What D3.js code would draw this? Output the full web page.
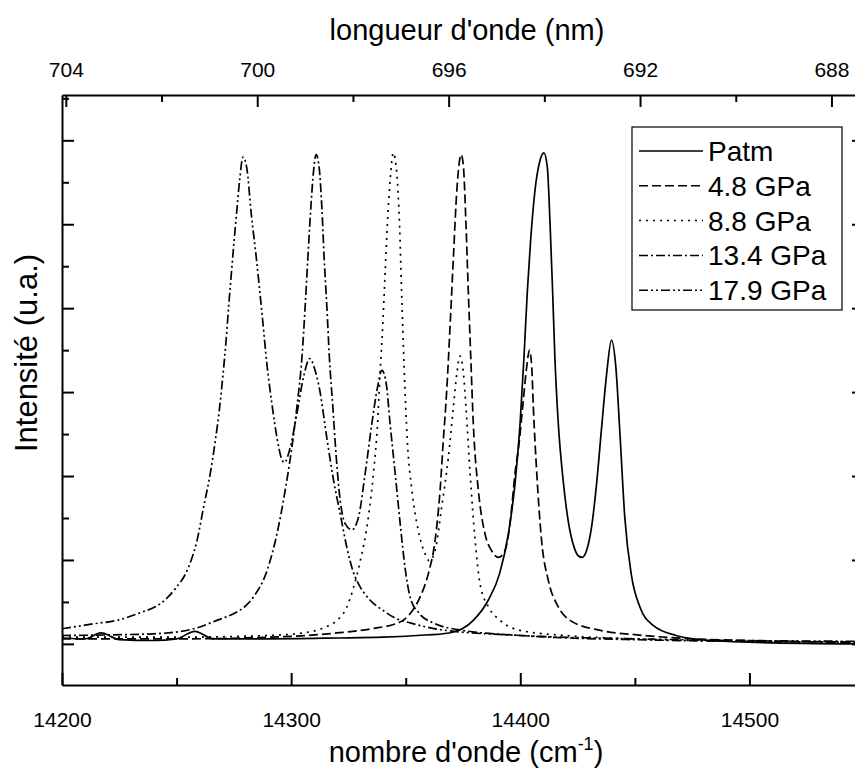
<!DOCTYPE html>
<html>
<head>
<meta charset="utf-8">
<style>
    body { margin: 0; background: #fff; }
    svg { display: block; font-family: 'Liberation Sans', Arial, sans-serif; }
    .axis .domain { stroke: #000; stroke-width: 2; }
    .axis .tick line { stroke: #000; stroke-width: 2; }
    .axis .tick text { font-size: 21px; fill: #000; }
    .title { font-size: 29px; fill: #000; }
    .legend text { font-size: 28px; fill: #000; }
    .spec { fill: none; stroke: #000; stroke-width: 1.7; }
</style>
</head>
<body>
<svg width="855" height="775"></svg>

<script src="https://cdnjs.cloudflare.com/ajax/libs/d3/7.8.5/d3.min.js"></script>
<script>
    // axis ranges and ticks
    let xDomain = [14200, 14550]
    let xTicks = [14200, 14300, 14400, 14500]
    let xMinor = [14250, 14350, 14450, 14550]
    let topDomain = [704.08, 687.32]
    let topTicks = [704, 700, 696, 692, 688]
    let topMinor = [702, 698, 694, 690]
    let yDomain = [-0.49, 6.54]
    let yTicks = [0, 1, 2, 3, 4, 5, 6]
    let yMinor = [0.5, 1.5, 2.5, 3.5, 4.5, 5.5, 6.5]

    let labels = ["Patm", "4.8 GPa", "8.8 GPa", "13.4 GPa", "17.9 GPa"]
    let dashes = ["none", "9,4", "2,5", "9,3,2,3", "9,3,2,3,2,3"]

    // spectra: [wavenumber, intensity]
    let patm = [[14200, 0.07], [14210, 0.06], [14217, 0.13], [14225, 0.05], [14240, 0.04], [14250, 0.06],
        [14258, 0.15], [14266, 0.06], [14290, 0.06], [14320, 0.07], [14340, 0.08], [14355, 0.10],
        [14369, 0.13], [14379.5, 0.28], [14386, 0.52], [14391, 0.84], [14394.8, 1.31], [14397.7, 1.91],
        [14399.9, 2.62], [14401.6, 3.41], [14403.1, 4.21], [14404.5, 4.80], [14406.4, 5.40], [14408.6, 5.76],
        [14410.3, 5.85], [14411.8, 5.68], [14413, 5.0], [14414.1, 4.21], [14415.1, 3.41], [14416.6, 2.62],
        [14418.7, 1.95], [14421, 1.45], [14423.5, 1.15], [14425.3, 1.05], [14427, 1.03], [14428.9, 1.11],
        [14431.1, 1.39], [14433.3, 1.91], [14435.5, 2.58], [14437.7, 3.22], [14439.8, 3.62], [14441.7, 3.30],
        [14443.5, 2.50], [14445.6, 1.51], [14448.6, 0.80], [14452.2, 0.44], [14458, 0.22], [14468, 0.10],
        [14483, 0.04], [14500, 0.02], [14550, 0.0]]

    let gpa48 = [[14200, 0.06], [14250, 0.06], [14300, 0.09], [14320, 0.13], [14335, 0.18], [14347.5, 0.26],
        [14351.9, 0.36], [14356.3, 0.56], [14359.9, 0.84], [14362.8, 1.23], [14365, 1.83], [14366.4, 2.42],
        [14367.9, 3.02], [14369.4, 3.81], [14370.8, 4.60], [14372.3, 5.40], [14374.2, 5.83], [14375.2, 5.68],
        [14376.3, 5.0], [14377.3, 4.21], [14378.4, 3.41], [14379.5, 2.62], [14381.7, 1.83], [14384.6, 1.31],
        [14387.5, 1.11], [14390.4, 1.03], [14393.3, 1.11], [14395.5, 1.43], [14397.7, 2.03], [14399.6, 2.42],
        [14401.3, 2.90], [14402.8, 3.30], [14404, 3.50], [14405, 3.30], [14405.7, 2.82], [14407.2, 2.03],
        [14409.3, 1.23], [14412.2, 0.76], [14416.6, 0.44], [14421.7, 0.28], [14435, 0.16], [14450, 0.11],
        [14475, 0.06], [14500, 0.04], [14550, 0.02]]

    let gpa88 = [[14200, 0.08], [14250, 0.08], [14290, 0.10], [14305, 0.13], [14315, 0.20], [14320, 0.28],
        [14324, 0.42], [14327, 0.65], [14330, 0.97], [14333.7, 1.51], [14335.9, 2.03], [14337.7, 2.62],
        [14338.8, 3.22], [14340, 3.81], [14341, 4.41], [14342, 5.0], [14343.2, 5.52], [14344.6, 5.85],
        [14346.1, 5.60], [14347.3, 5.0], [14348.2, 4.2], [14349.3, 3.3], [14350.7, 2.42], [14352.7, 1.83],
        [14355.5, 1.35], [14358.5, 1.07], [14360.3, 0.99], [14362.8, 1.11], [14365.7, 1.63], [14368.6, 2.22],
        [14370.8, 2.82], [14372.3, 3.22], [14373.7, 3.43], [14375.2, 3.22], [14376.3, 2.82], [14378.1, 2.03],
        [14380.3, 1.23], [14382.4, 0.72], [14386.1, 0.44], [14391.2, 0.28], [14400, 0.16], [14425, 0.09],
        [14450, 0.06], [14500, 0.03], [14550, 0.02]]

    let gpa134 = [[14200, 0.10], [14240, 0.12], [14257.5, 0.18], [14267.6, 0.28], [14274.9, 0.36], [14280, 0.45],
        [14283.6, 0.56], [14289.5, 0.875], [14293.8, 1.31], [14297.4, 1.83], [14300.3, 2.34], [14302.5, 2.82],
        [14304.7, 3.41], [14306.1, 4.01], [14307.3, 4.60], [14308.6, 5.20], [14309.8, 5.64], [14310.9, 5.83],
        [14312.2, 5.68], [14313.4, 5.20], [14314.4, 4.60], [14315.6, 4.01], [14316.7, 3.41], [14318.2, 2.82],
        [14319.7, 2.22], [14321.4, 1.71], [14323.6, 1.43], [14326.5, 1.36], [14329.4, 1.51], [14332.3, 2.03],
        [14335.2, 2.62], [14337.7, 3.06], [14339.6, 3.26], [14341.5, 3.10], [14343.2, 2.62], [14345.4, 2.03],
        [14347.6, 1.43], [14349.7, 0.91], [14352, 0.55], [14356, 0.36], [14362, 0.25], [14375, 0.16],
        [14400, 0.10], [14450, 0.05], [14550, 0.02]]

    let gpa179 = [[14200, 0.18], [14214, 0.24], [14224, 0.28], [14234, 0.37], [14243, 0.48], [14249.5, 0.66],
        [14254.6, 0.875], [14258.9, 1.23], [14261.8, 1.63], [14264.7, 2.03], [14266.9, 2.42], [14268.8, 2.82],
        [14270.3, 3.22], [14271.6, 3.61], [14272.7, 4.01], [14273.9, 4.41], [14275.1, 4.80], [14276.4, 5.20],
        [14277.5, 5.52], [14279, 5.80], [14280.7, 5.66], [14282.5, 5.15], [14285, 4.55], [14287.3, 3.93],
        [14289.4, 3.34], [14291.6, 2.86], [14293.8, 2.46], [14295.9, 2.20], [14297, 2.16], [14299.6, 2.34],
        [14302.5, 2.74], [14305.4, 3.18], [14308.2, 3.40], [14310, 3.30], [14312.5, 3.02], [14315.6, 2.45],
        [14318.5, 1.95], [14321.4, 1.55], [14324.3, 1.15], [14327.2, 0.85], [14330.1, 0.68], [14334.5, 0.52],
        [14340, 0.40], [14346, 0.30], [14352, 0.25], [14365, 0.17], [14400, 0.10], [14450, 0.06], [14550, 0.03]]

    let spectra = [patm, gpa48, gpa88, gpa134, gpa179]

    let margin = { top: 95, left: 62 }
    let plotW = 802
    let plotH = 590

    let svg = d3.select("svg")

    let x = d3.scaleLinear().domain(xDomain).range([margin.left, margin.left + plotW])
    let xTop = d3.scaleLinear().domain(topDomain).range([margin.left, margin.left + plotW])
    let y = d3.scaleLinear().domain(yDomain).range([margin.top + plotH, margin.top])

    // clip for the curves
    svg.append("clipPath").attr("id", "clip")
        .append("rect")
        .attr("x", margin.left).attr("y", margin.top)
        .attr("width", plotW).attr("height", plotH)

    let line = d3.line()
        .x(d => x(d[0]))
        .y(d => y(d[1]))
        .curve(d3.curveMonotoneX)

    svg.append("g")
        .attr("clip-path", "url(#clip)")
        .selectAll("path")
        .data(spectra)
        .join("path")
        .attr("class", "spec")
        .attr("d", line)
        .attr("stroke-dasharray", (d, i) => dashes[i])

    // axes: major ticks with labels, minor ticks without
    let bottom = margin.top + plotH
    let right = margin.left + plotW

    svg.append("g").attr("class", "axis")
        .attr("transform", `translate(0,${bottom})`)
        .call(d3.axisBottom(x).tickValues(xTicks).tickSize(-12).tickSizeOuter(0).tickPadding(27).tickFormat(d3.format("d")))
    svg.append("g").attr("class", "axis")
        .attr("transform", `translate(0,${bottom})`)
        .call(d3.axisBottom(x).tickValues(xMinor).tickSize(-7).tickSizeOuter(0).tickFormat(""))
        .call(g => g.select(".domain").remove())

    svg.append("g").attr("class", "axis")
        .attr("transform", `translate(0,${margin.top})`)
        .call(d3.axisTop(xTop).tickValues(topTicks).tickSize(-12).tickSizeOuter(0).tickPadding(18).tickFormat(d3.format("d")))
    svg.append("g").attr("class", "axis")
        .attr("transform", `translate(0,${margin.top})`)
        .call(d3.axisTop(xTop).tickValues(topMinor).tickSize(-7).tickSizeOuter(0).tickFormat(""))
        .call(g => g.select(".domain").remove())

    svg.append("g").attr("class", "axis")
        .attr("transform", `translate(${margin.left},0)`)
        .call(d3.axisLeft(y).tickValues(yTicks).tickSize(-12).tickSizeOuter(0).tickFormat(""))
    svg.append("g").attr("class", "axis")
        .attr("transform", `translate(${margin.left},0)`)
        .call(d3.axisLeft(y).tickValues(yMinor).tickSize(-7).tickSizeOuter(0).tickFormat(""))
        .call(g => g.select(".domain").remove())

    svg.append("g").attr("class", "axis")
        .attr("transform", `translate(${right},0)`)
        .call(d3.axisRight(y).tickValues(yTicks).tickSize(-12).tickSizeOuter(0).tickFormat(""))
    svg.append("g").attr("class", "axis")
        .attr("transform", `translate(${right},0)`)
        .call(d3.axisRight(y).tickValues(yMinor).tickSize(-7).tickSizeOuter(0).tickFormat(""))
        .call(g => g.select(".domain").remove())

    // axis titles
    svg.append("text")
        .attr("class", "title")
        .attr("x", 467).attr("y", 40)
        .attr("text-anchor", "middle")
        .text("longueur d'onde (nm)")

    let xt = svg.append("text")
        .attr("class", "title")
        .attr("x", 466).attr("y", 762)
        .attr("text-anchor", "middle")
    xt.append("tspan").text("nombre d'onde (cm")
    xt.append("tspan").attr("dy", -12).style("font-size", "18px").text("-1")
    xt.append("tspan").attr("dy", 12).text(")")

    svg.append("text")
        .attr("class", "title")
        .attr("transform", "translate(37,353) rotate(-90)")
        .attr("text-anchor", "middle")
        .style("font-size", "31px")
        .text("Intensité (u.a.)")

    // legend
    let leg = svg.append("g").attr("class", "legend")
    leg.append("rect")
        .attr("x", 632).attr("y", 127)
        .attr("width", 210).attr("height", 183)
        .attr("fill", "#fff").attr("stroke", "#000").attr("stroke-width", 1.2)

    let rows = leg.selectAll("g.row")
        .data(labels)
        .join("g")
        .attr("class", "row")
        .attr("transform", (d, i) => `translate(0,${151 + i * 34.8})`)

    rows.append("line")
        .attr("x1", 639).attr("x2", 703)
        .attr("stroke", "#000").attr("stroke-width", 1.5)
        .attr("stroke-dasharray", (d, i) => dashes[i])

    rows.append("text")
        .attr("x", 708).attr("y", 10)
        .text(d => d)
</script>
</body>
</html>
